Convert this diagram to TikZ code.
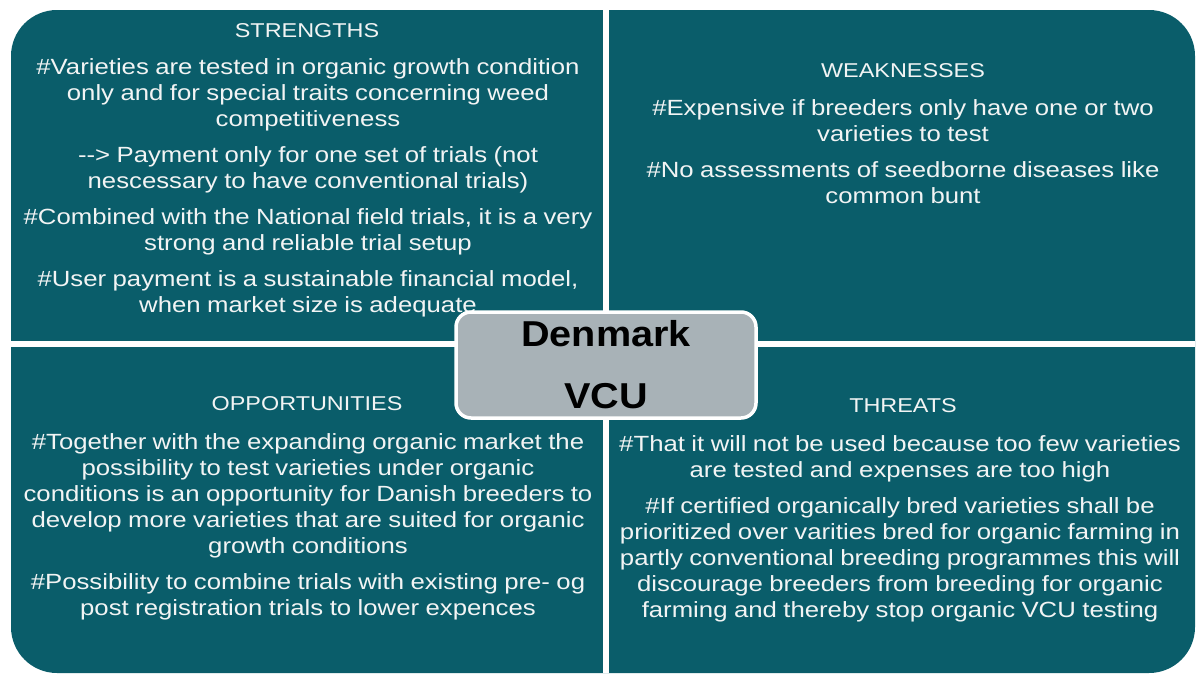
\documentclass[tikz,border=0pt]{standalone}
\usepackage{fontspec}
\setmainfont{Liberation Sans}
\newfontfamily\swotfont[FakeStretch=1.17,WordSpace=0.9]{Liberation Sans}
\newfontfamily\dkfont[FakeStretch=1.1]{Liberation Sans}
\definecolor{swotteal}{HTML}{0A5D6A}
\definecolor{swotgrey}{HTML}{A8B2B7}
\definecolor{swottext}{HTML}{F2F4F4}
\begin{document}
\begin{tikzpicture}[x=1pt,y=-1pt,
	quad/.style={fill=swotteal,rounded corners=46pt},
	gap/.style={draw=white,line width=5.5pt},
	head/.style={text=swottext,font=\swotfont\fontsize{20}{26}\selectfont},
	body/.style={text=swottext,align=center,font=\swotfont\fontsize{22}{26}\selectfont},
	centre/.style={fill=swotgrey,draw=white,line width=3.5pt,rounded corners=15pt,
		minimum width=300pt,minimum height=106pt,align=center,
		font=\dkfont\bfseries\fontsize{36}{62}\selectfont}]
	\useasboundingbox (0,0) rectangle (1196,675);
	\path (11,10) coordinate (NW) (1195,673) coordinate (SE)
	(606,10) coordinate (T) (606,673) coordinate (B)
	(11,344) coordinate (L) (1195,344) coordinate (R);
	\fill[quad] (NW) rectangle (SE);
	\draw[gap] (T) -- (B);
	\draw[gap] (L) -- (R);
	% strengths
	\node[head] (shead) at (307,31) {STRENGTHS};
	\node[body] (sbody) at (308,188) {\#Varieties are tested in organic growth condition\\
		only and for special traits concerning weed\\
		competitiveness\\[10pt]
		-{}-{}> Payment only for one set of trials (not\\
		nescessary to have conventional trials)\\[10pt]
		\#Combined with the National field trials, it is a very\\
		strong and reliable trial setup\\[10pt]
		\#User payment is a sustainable financial model,\\
		when market size is adequate};
	% weaknesses
	\node[head] (whead) at (903,71) {WEAKNESSES};
	\node[body] (wbody) at (903,152) {\#Expensive if breeders only have one or two\\
		varieties to test\\[10pt]
		\#No assessments of seedborne diseases like\\
		common bunt};
	% opportunities
	\node[head] (ohead) at (307,404) {OPPORTUNITIES};
	\node[body] (obody) at (308,527) {\#Together with the expanding organic market the\\
		possibility to test varieties under organic\\
		conditions is an opportunity for Danish breeders to\\
		develop more varieties that are suited for organic\\
		growth conditions\\[10pt]
		\#Possibility to combine trials with existing pre- og\\
		post registration trials to lower expences};
	% threats
	\node[head] (thead) at (903,406) {THREATS};
	\node[body] (tbody) at (900,529) {\#That it will not be used because too few varieties\\
		are tested and expenses are too high\\[10pt]
		\#If certified organically bred varieties shall be\\
		prioritized over varities bred for organic farming in\\
		partly conventional breeding programmes this will\\
		discourage breeders from breeding for organic\\
		farming and thereby stop organic VCU testing};
	\node[centre] (dk) at (606,365) {Denmark\\VCU};
\end{tikzpicture}
\end{document}
